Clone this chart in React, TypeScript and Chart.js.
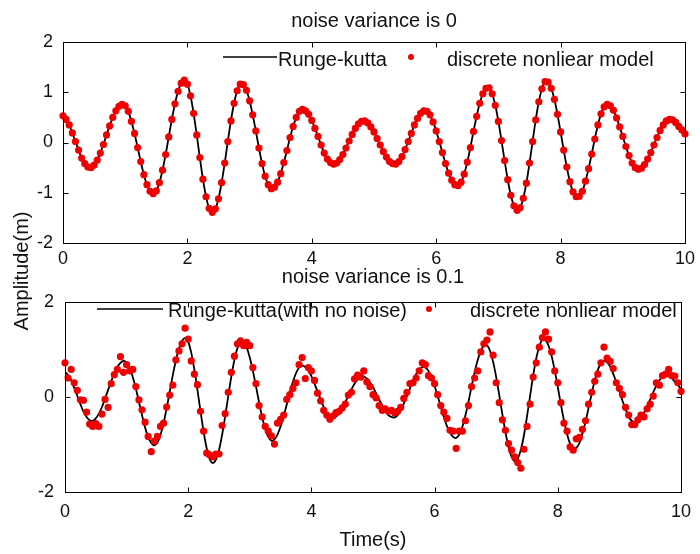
import { useEffect, useRef } from "react";
import { Chart, registerables } from "chart.js";

Chart.register(...registerables);

// ---------------- data ----------------
const TIME_STEP = 0.05; // sampling step of the simulation (s)

const RUNGE_KUTTA = [
  0.53, 0.46, 0.35, 0.19, 0.02, -0.15, -0.31, -0.42, -0.49, -0.5,
  -0.45, -0.35, -0.21, -0.04, 0.15, 0.33, 0.5, 0.63, 0.72, 0.76,
  0.73, 0.62, 0.42, 0.18, -0.1, -0.38, -0.64, -0.84, -0.97, -1.02,
  -0.96, -0.8, -0.55, -0.24, 0.11, 0.46, 0.77, 1.02, 1.18, 1.24,
  1.16, 0.93, 0.58, 0.15, -0.3, -0.73, -1.08, -1.31, -1.39, -1.32,
  -1.12, -0.8, -0.41, 0.02, 0.43, 0.78, 1.03, 1.16, 1.15, 1.04,
  0.83, 0.55, 0.23, -0.11, -0.42, -0.67, -0.84, -0.92, -0.89, -0.79,
  -0.62, -0.4, -0.16, 0.1, 0.32, 0.5, 0.62, 0.66, 0.63, 0.56,
  0.44, 0.28, 0.12, -0.05, -0.21, -0.33, -0.4, -0.43, -0.41, -0.34,
  -0.24, -0.11, 0.03, 0.16, 0.28, 0.37, 0.42, 0.43, 0.39, 0.31,
  0.21, 0.08, -0.05, -0.18, -0.29, -0.38, -0.42, -0.43, -0.38, -0.28,
  -0.14, 0.02, 0.18, 0.35, 0.48, 0.58, 0.63, 0.62, 0.55, 0.41,
  0.23, 0.02, -0.2, -0.42, -0.61, -0.75, -0.84, -0.86, -0.79, -0.63,
  -0.39, -0.1, 0.22, 0.52, 0.78, 0.97, 1.08, 1.09, 0.97, 0.74,
  0.42, 0.04, -0.36, -0.74, -1.05, -1.26, -1.35, -1.3, -1.11, -0.81,
  -0.41, 0.02, 0.45, 0.81, 1.07, 1.21, 1.2, 1.08, 0.86, 0.56,
  0.21, -0.15, -0.49, -0.78, -0.98, -1.08, -1.07, -0.97, -0.77, -0.52,
  -0.23, 0.07, 0.35, 0.57, 0.71, 0.76, 0.73, 0.64, 0.49, 0.31,
  0.12, -0.08, -0.26, -0.41, -0.5, -0.53, -0.51, -0.44, -0.33, -0.2,
  -0.05, 0.1, 0.24, 0.35, 0.43, 0.46, 0.45, 0.4, 0.32, 0.25,
  0.17,
];

// discrete nonlinear model, noise variance 0 (coincides with Runge-Kutta)
const DISCRETE_NO_NOISE = RUNGE_KUTTA;

// discrete nonlinear model, noise variance 0.1
const DISCRETE_NOISY = [
  0.72, 0.4, 0.58, 0.3, 0.14, -0.06, -0.07, -0.32, -0.57, -0.62,
  -0.56, -0.62, -0.36, -0.05, -0.22, 0.28, 0.47, 0.58, 0.85, 0.52,
  0.68, 0.55, 0.58, 0.22, -0.06, -0.27, -0.53, -0.83, -1.15, -0.93,
  -0.83, -0.62, -0.55, -0.21, 0.04, 0.25, 0.78, 0.97, 1.12, 1.45,
  1.22, 0.76, 0.48, 0.26, -0.3, -0.72, -1.18, -1.22, -1.26, -1.2,
  -1.2, -0.6, -0.35, 0.1, 0.52, 0.86, 1.12, 1.18, 1.08, 1.15,
  1.08, 0.62, 0.28, -0.18, -0.42, -0.62, -0.72, -0.82, -0.99, -0.55,
  -0.47, -0.38, -0.05, 0.05, 0.18, 0.3, 0.68, 0.83, 0.39, 0.62,
  0.55, 0.35, 0.08, -0.08, -0.28, -0.38, -0.47, -0.4, -0.33, -0.3,
  -0.23, -0.15, 0.04, 0.1, 0.38, 0.46, 0.42, 0.55, 0.32, 0.22,
  0.05, -0.02, -0.18, -0.28, -0.25, -0.3, -0.28, -0.33, -0.3, -0.22,
  -0.03, 0.1, 0.28, 0.3, 0.4, 0.55, 0.72, 0.68, 0.45, 0.4,
  0.28, 0.05, -0.18, -0.32, -0.45, -0.7, -0.72, -1.08, -0.72, -0.72,
  -0.5, -0.18, 0.22, 0.4, 0.55, 0.95, 1.12, 1.2, 1.37, 0.88,
  0.3, -0.12, -0.48, -0.7, -0.98, -1.12, -1.26, -1.38, -1.5, -1.1,
  -0.62, -0.15, 0.42, 0.72, 1.05, 1.25, 1.37, 1.22, 0.95, 0.55,
  0.3, -0.12, -0.55, -0.72, -1.05, -1.12, -0.88, -0.85, -0.68, -0.5,
  -0.15, 0.1, 0.33, 0.48, 0.72, 1.05, 0.82, 0.75, 0.6, 0.3,
  0.18, 0.05, -0.22, -0.38, -0.58, -0.58, -0.48, -0.38, -0.42, -0.25,
  -0.15, 0.02, 0.3, 0.25, 0.45, 0.48, 0.58, 0.45, 0.44, 0.3,
  0.12,
];

const TIME = RUNGE_KUTTA.map((_, i) => Math.round(i * TIME_STEP * 100) / 100);

const X_TICKS = [0, 2, 4, 6, 8, 10];
const Y_TICKS_TOP = [-2, -1, 0, 1, 2];
const Y_TICKS_BOTTOM = [-2, 0, 2];

const TITLE_TOP = "noise variance is 0";
const TITLE_BOTTOM = "noise variance is 0.1";
const LINE_LABEL_TOP = "Runge-kutta";
const LINE_LABEL_BOTTOM = "Runge-kutta(with no noise)";
const DOT_LABEL = "discrete nonliear model";
const Y_LABEL = "Amplitude(m)";
const X_LABEL = "Time(s)";

// ---------------- style / layout ----------------
const W = 700;
const H = 554;
const FONT = '"Liberation Sans", Arial, Helvetica, sans-serif';
const TEXT_COLOR = "#111";
const DOT_COLOR = "#f00000";
const Y_AXIS_W = 60;
const X_AXIS_H = 30;
const TICK_LEN = 5;

type Cfg = {
  area: { left: number; top: number; right: number; bottom: number };
  yTicks: number[];
  dots: number[];
  title: string;
  titleBaseline: number;
  lineLabel: string;
  legend: { lineX0: number; lineX1: number; textX: number; dotX: number; dotTextX: number; y: number; baseline: number };
  xTickPad: number;
  yTickPad: number;
  drawYLabel: boolean;
  drawXLabel: boolean;
};

function makeDecor(cfg: Cfg) {
  return {
    id: "decor",
    afterDraw(chart: any) {
      const ctx: CanvasRenderingContext2D = chart.ctx;
      const a = chart.chartArea;
      const L = Math.round(a.left) + 0.5;
      const R = Math.round(a.right) + 0.5;
      const T = Math.round(a.top) + 0.5;
      const B = Math.round(a.bottom) + 0.5;
      ctx.save();
      ctx.strokeStyle = "#000";
      ctx.lineWidth = 1;
      ctx.strokeRect(L, T, R - L, B - T);
      // inward ticks on all four sides
      const xs = chart.scales.x;
      const ys = chart.scales.y;
      ctx.beginPath();
      xs.ticks.forEach((t: any) => {
        const px = Math.round(xs.getPixelForValue(t.value)) + 0.5;
        if (px <= L + 1 || px >= R - 1) return;
        ctx.moveTo(px, B);
        ctx.lineTo(px, B - TICK_LEN);
        ctx.moveTo(px, T);
        ctx.lineTo(px, T + TICK_LEN);
      });
      ys.ticks.forEach((t: any) => {
        const py = Math.round(ys.getPixelForValue(t.value)) + 0.5;
        if (py <= T + 1 || py >= B - 1) return;
        ctx.moveTo(L, py);
        ctx.lineTo(L + TICK_LEN, py);
        ctx.moveTo(R, py);
        ctx.lineTo(R - TICK_LEN, py);
      });
      ctx.stroke();

      ctx.fillStyle = TEXT_COLOR;
      ctx.font = `20px ${FONT}`;
      // title
      ctx.textAlign = "center";
      ctx.textBaseline = "alphabetic";
      ctx.fillText(cfg.title, (a.left + a.right) / 2, a.top - cfg.titleBaseline);

      // legend
      const lg = cfg.legend;
      ctx.strokeStyle = "#000";
      ctx.lineWidth = 1.6;
      ctx.beginPath();
      ctx.moveTo(a.left + lg.lineX0, a.top + lg.y);
      ctx.lineTo(a.left + lg.lineX1, a.top + lg.y);
      ctx.stroke();
      ctx.textAlign = "left";
      ctx.fillText(cfg.lineLabel, a.left + lg.textX, a.top + lg.baseline);
      ctx.fillStyle = DOT_COLOR;
      ctx.beginPath();
      ctx.arc(a.left + lg.dotX, a.top + lg.y, 3, 0, Math.PI * 2);
      ctx.fill();
      ctx.fillStyle = TEXT_COLOR;
      ctx.fillText(DOT_LABEL, a.left + lg.dotTextX, a.top + lg.baseline);

      if (cfg.drawYLabel) {
        ctx.save();
        ctx.translate(22, 271);
        ctx.rotate(-Math.PI / 2);
        ctx.textAlign = "center";
        ctx.textBaseline = "middle";
        ctx.fillText(Y_LABEL, 0, 0);
        ctx.restore();
      }
      if (cfg.drawXLabel) {
        ctx.textAlign = "center";
        ctx.textBaseline = "middle";
        ctx.fillText(X_LABEL, (a.left + a.right) / 2, 540);
      }
      ctx.restore();
    },
  };
}

function buildChart(canvas: HTMLCanvasElement, cfg: Cfg) {
  const tickFont = { family: FONT, size: 18 };
  return new Chart(canvas, {
    type: "line",
    data: {
      datasets: [
        {
          label: cfg.lineLabel,
          data: TIME.map((t, i) => ({ x: t, y: RUNGE_KUTTA[i] })),
          borderColor: "#000",
          borderWidth: 1.8,
          pointRadius: 0,
          tension: 0.35,
          fill: false,
          order: 1,
        },
        {
          label: DOT_LABEL,
          data: TIME.map((t, i) => ({ x: t, y: cfg.dots[i] })),
          showLine: false,
          pointRadius: 3.6,
          pointStyle: "circle",
          pointBackgroundColor: DOT_COLOR,
          pointBorderColor: DOT_COLOR,
          pointBorderWidth: 0,
          order: 0,
          clip: 8,
        } as any,
      ],
    },
    options: {
      responsive: false,
      animation: false,
      events: [],
      layout: {
        padding: {
          left: cfg.area.left - Y_AXIS_W,
          top: cfg.area.top,
          right: W - cfg.area.right,
          bottom: H - cfg.area.bottom - X_AXIS_H,
        },
      },
      plugins: {
        legend: { display: false },
        tooltip: { enabled: false },
        title: { display: false },
      },
      scales: {
        x: {
          type: "linear",
          min: 0,
          max: 10,
          afterBuildTicks: (s: any) => {
            s.ticks = X_TICKS.map((v) => ({ value: v }));
          },
          afterFit: (s: any) => {
            s.height = X_AXIS_H;
          },
          grid: { display: false, drawTicks: false },
          border: { display: false },
          ticks: { padding: cfg.xTickPad, font: tickFont, color: TEXT_COLOR, maxRotation: 0, autoSkip: false },
        },
        y: {
          type: "linear",
          min: -2,
          max: 2,
          afterBuildTicks: (s: any) => {
            s.ticks = cfg.yTicks.map((v) => ({ value: v }));
          },
          afterFit: (s: any) => {
            s.width = Y_AXIS_W;
          },
          grid: { display: false, drawTicks: false },
          border: { display: false },
          ticks: { padding: cfg.yTickPad, font: tickFont, color: TEXT_COLOR, autoSkip: false },
        },
      },
    } as any,
    plugins: [makeDecor(cfg)],
  });
}

const TOP_CFG: Cfg = {
  area: { left: 63, top: 42, right: 688, bottom: 243 },
  yTicks: Y_TICKS_TOP,
  dots: DISCRETE_NO_NOISE,
  title: TITLE_TOP,
  titleBaseline: 15,
  lineLabel: LINE_LABEL_TOP,
  legend: { lineX0: 160, lineX1: 214, textX: 215, dotX: 348, dotTextX: 384, y: 15, baseline: 24 },
  xTickPad: 5,
  yTickPad: 10,
  drawYLabel: true,
  drawXLabel: false,
};

const BOTTOM_CFG: Cfg = {
  area: { left: 65, top: 302, right: 688, bottom: 492 },
  yTicks: Y_TICKS_BOTTOM,
  dots: DISCRETE_NOISY,
  title: TITLE_BOTTOM,
  titleBaseline: 19,
  lineLabel: LINE_LABEL_BOTTOM,
  legend: { lineX0: 32, lineX1: 98, textX: 103, dotX: 364, dotTextX: 405, y: 7, baseline: 15 },
  xTickPad: 9,
  yTickPad: 11,
  drawYLabel: false,
  drawXLabel: true,
};

export default function App() {
  const topRef = useRef<HTMLCanvasElement>(null);
  const botRef = useRef<HTMLCanvasElement>(null);

  useEffect(() => {
    const c1 = buildChart(topRef.current!, TOP_CFG);
    const c2 = buildChart(botRef.current!, BOTTOM_CFG);
    return () => {
      c1.destroy();
      c2.destroy();
    };
  }, []);

  const canvasStyle: React.CSSProperties = {
    position: "absolute",
    left: 0,
    top: 0,
    width: W,
    height: H,
  };

  return (
    <div style={{ position: "absolute", left: 0, top: 0, width: W, height: H, background: "#fff" }}>
      <canvas ref={botRef} width={W} height={H} style={canvasStyle} />
      <canvas ref={topRef} width={W} height={H} style={canvasStyle} />
    </div>
  );
}
